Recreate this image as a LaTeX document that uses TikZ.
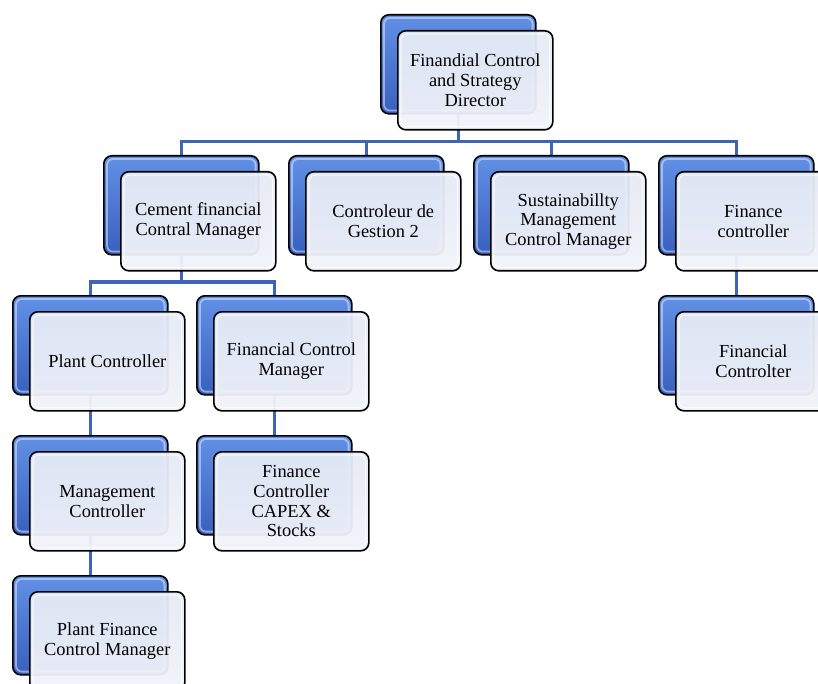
\documentclass[tikz,border=0pt]{standalone}
\usepackage{fontspec}
\setmainfont{Liberation Serif}
\usetikzlibrary{calc}
\pgfdeclarelayer{background}
\pgfsetlayers{background,main}

\definecolor{linkblue}{RGB}{62,101,181}
\definecolor{backtop}{RGB}{98,144,230}
\definecolor{backbot}{RGB}{56,96,190}
\definecolor{fronttop}{RGB}{229,234,245}
\definecolor{frontbot}{RGB}{242,244,250}

\tikzset{
  backbox/.style={draw=black, line width=1.6pt, rounded corners=8pt,
    top color=backtop, bottom color=backbot,
    minimum width=155pt, minimum height=99pt, anchor=north west, inner sep=0pt},
  frontbox/.style={draw=black, line width=1.6pt, rounded corners=8pt,
    top color=fronttop, bottom color=frontbot, fill opacity=0.95, text opacity=1,
    minimum width=155pt, minimum height=99pt, anchor=north west, inner sep=0pt,
    align=center, font=\fontsize{18.4}{19.6}\selectfont},
  backgloss/.style={draw=white, opacity=0.45, line width=1.8pt, rounded corners=6pt},
  frontgloss/.style={draw=white, opacity=0.7, line width=1.2pt, rounded corners=6pt},
  link/.style={draw=linkblue, line width=3pt}
}

% one organisational unit: a glossy blue card with a pale card in front of it
\newcommand\orgunit[4]{%
  \node[backbox] (#1-b) at (#2,#3) {};
  \draw[backgloss] ([shift={(4pt,-4pt)}]#1-b.north west) rectangle ([shift={(-4pt,4pt)}]#1-b.south east);
  \node[frontbox] (#1) at (#2+17,#3+16) {#4};
  \draw[frontgloss] ([shift={(4pt,-4pt)}]#1.north west) rectangle ([shift={(-4pt,4pt)}]#1.south east);
}

\begin{document}
\begin{tikzpicture}[x=1pt,y=-1pt]
  \useasboundingbox (0,0) rectangle (818,684);
  \clip (0,0) rectangle (818,684);

  \orgunit{dir}{380}{14}{Finandial Control\\and Strategy\\Director}

  \orgunit{cem}{103}{155}{Cement financial\\Contral Manager}
  \orgunit{ctl}{288}{155}{Controleur de\\Gestion 2}
  \orgunit{sus}{473}{155}{Sustainabillty\\Management\\Control Manager}
  \orgunit{fin}{658}{155}{Finance\\controller}

  \orgunit{plant}{12}{295}{Plant Controller}
  \orgunit{fcm}{196}{295}{Financial Control\\Manager}
  \orgunit{fctl}{658}{295}{Financial\\Controlter}

  \orgunit{mgmt}{12}{435}{Management\\Controller}
  \orgunit{capex}{196}{435}{Finance\\Controller\\CAPEX \&\\Stocks}

  \orgunit{pfcm}{12}{575}{Plant Finance\\Control Manager}

  \coordinate (bus1) at (0,142);
  \coordinate (bus2) at (0,282);

  \begin{pgfonlayer}{background}
    \fill[white] (0,0) rectangle (818,684);
    % reporting lines
    \foreach \c in {cem,ctl,sus,fin}
      \draw[link] (dir-b.south) -- (dir-b.south |- bus1) -| (\c-b.north);
    \foreach \c in {plant,fcm}
      \draw[link] (cem-b.south) -- (cem-b.south |- bus2) -| (\c-b.north);
    \draw[link] (fin-b.south) -- (fctl-b.north);
    \draw[link] (plant-b.south) -- (mgmt-b.north);
    \draw[link] (mgmt-b.south) -- (pfcm-b.north);
    \draw[link] (fcm-b.south) -- (capex-b.north);
  \end{pgfonlayer}
\end{tikzpicture}
\end{document}
